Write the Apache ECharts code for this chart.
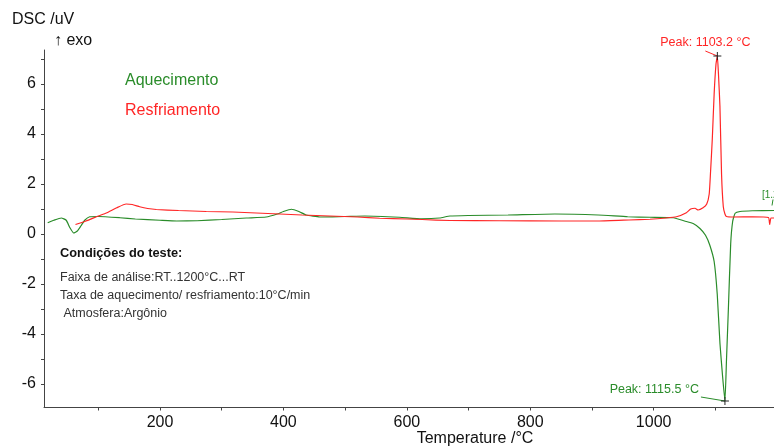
<!DOCTYPE html>
<html>
<head>
<meta charset="utf-8">
<title>DSC</title>
<script src="https://cdn.jsdelivr.net/npm/echarts@6/dist/echarts.min.js"></script>
<style>
  html, body { margin: 0; padding: 0; background: #fff; }
  #chart { width: 774px; height: 448px; }
</style>
</head>
<body>
<div id="chart"></div>
<script>
// Heating run (Aquecimento): temperature in °C and DSC signal in uV
const heatT = [18, 28, 40, 48, 54, 60, 66, 72, 78, 86, 100, 135, 160, 200, 227, 260, 300, 340, 372, 390, 400, 413, 425, 437, 459, 500, 532, 588, 624, 653, 670, 700, 764, 840, 910, 958, 994, 1032, 1050, 1064, 1075, 1084, 1091, 1098, 1103, 1107.4, 1111.7, 1115.5, 1118, 1121, 1124.8, 1128, 1132, 1140, 1160, 1195];
const heatDSC = [0.45, 0.55, 0.64, 0.55, 0.25, 0.04, 0.12, 0.33, 0.55, 0.69, 0.70, 0.65, 0.60, 0.55, 0.52, 0.53, 0.58, 0.64, 0.68, 0.80, 0.90, 0.99, 0.90, 0.76, 0.68, 0.70, 0.72, 0.67, 0.61, 0.64, 0.72, 0.74, 0.76, 0.80, 0.76, 0.69, 0.67, 0.65, 0.52, 0.42, 0.22, -0.05, -0.45, -1.1, -2.4, -4.37, -5.7, -6.68, -5.04, -3.04, -0.4, 0.5, 0.83, 0.9, 0.93, 0.94];

// Cooling run (Resfriamento)
const coolT = [63, 80, 100, 113, 130, 145, 155, 167, 180, 194, 230, 275, 318, 356, 394, 430, 475, 520, 556, 600, 625, 670, 750, 850, 912, 960, 994, 1020, 1037, 1053, 1060, 1067, 1072, 1080, 1086, 1090, 1092, 1095, 1098, 1101, 1103.2, 1105, 1107.4, 1110, 1112.8, 1115.5, 1118, 1130, 1160, 1186, 1188, 1190, 1195];
const coolDSC = [0.38, 0.52, 0.72, 0.84, 1.05, 1.2, 1.18, 1.09, 1.02, 0.98, 0.94, 0.90, 0.88, 0.84, 0.80, 0.76, 0.72, 0.68, 0.63, 0.60, 0.58, 0.54, 0.53, 0.52, 0.52, 0.56, 0.59, 0.64, 0.69, 0.85, 1.0, 1.03, 0.96, 1.05, 1.2, 1.6, 2.4, 3.8, 5.6, 6.8, 7.12, 6.4, 5.1, 2.4, 1.1, 0.8, 0.70, 0.68, 0.69, 0.66, 0.38, 0.64, 0.64];

// Evaluated peaks
const peakHeat = { t: 1115.5, dsc: -6.68, text: 'Peak: 1115.5 °C' };
const peakCool = { t: 1103.2, dsc: 7.12, text: 'Peak: 1103.2 °C' };

// Axis ticks and labels
const xLabels = [200, 400, 600, 800, 1000];
const xTicks = [100, 200, 300, 400, 500, 600, 700, 800, 900, 1000, 1100];
const yLabels = [-6, -4, -2, 0, 2, 4, 6];
const yTicks = [-6, -5, -4, -3, -2, -1, 0, 1, 2, 3, 4, 5, 6, 7];

const conditions = [
  'Faixa de análise:RT..1200°C...RT',
  'Taxa de aquecimento/ resfriamento:10°C/min',
  ' Atmosfera:Argônio'
];

const GREEN = '#2a8c2a';
const RED = '#ff2626';
const FONT = '"Liberation Sans", Arial, "DejaVu Sans", sans-serif';

const zip = (xs, ys) => xs.map((x, i) => [x, ys[i]]);

const crossSymbol = 'path://M5,0L5,10M0,5L10,5';

const chart = echarts.init(document.getElementById('chart'), null, { renderer: 'canvas' });

chart.setOption({
  animation: false,
  backgroundColor: '#ffffff',
  textStyle: { fontFamily: FONT },
  grid: { left: 44, right: 0, top: 50, bottom: 40.5, containLabel: false },
  legend: {
    orient: 'vertical',
    left: 115,
    top: 67,
    itemWidth: 0,
    itemHeight: 18,
    itemGap: 12,
    selectedMode: false,
    textStyle: { fontSize: 16, fontFamily: FONT, lineHeight: 18 },
    data: [
      { name: 'Aquecimento', icon: 'none', textStyle: { color: GREEN } },
      { name: 'Resfriamento', icon: 'none', textStyle: { color: RED } }
    ]
  },
  xAxis: {
    type: 'value',
    min: 12,
    max: 1195,
    axisLine: { show: true, onZero: false, lineStyle: { color: '#444', width: 1 } },
    splitLine: { show: false },
    axisTick: { show: true, length: 3, lineStyle: { color: '#444' }, customValues: xTicks },
    axisLabel: {
      customValues: xLabels, fontSize: 16, color: '#111', margin: 7, fontFamily: FONT,
      formatter: v => String(v)
    }
  },
  yAxis: {
    type: 'value',
    min: -6.94,
    max: 7.36,
    axisLine: { show: true, onZero: false, lineStyle: { color: '#444', width: 1 } },
    splitLine: { show: false },
    axisTick: { show: true, length: 3, lineStyle: { color: '#444' }, customValues: yTicks },
    axisLabel: {
      customValues: yLabels, fontSize: 16, color: '#111', margin: 8, fontFamily: FONT,
      formatter: v => String(v)
    }
  },
  series: [
    {
      name: 'Aquecimento',
      type: 'line',
      data: zip(heatT, heatDSC),
      showSymbol: false,
      smooth: 0.15,
      lineStyle: { color: GREEN, width: 1.2 },
      itemStyle: { color: GREEN },
      markPoint: {
        symbol: crossSymbol,
        symbolSize: 8,
        itemStyle: { color: 'rgba(0,0,0,0)', borderColor: '#222', borderWidth: 1 },
        label: { show: false },
        data: [{ coord: [peakHeat.t, peakHeat.dsc] }]
      }
    },
    {
      name: 'Resfriamento',
      type: 'line',
      data: zip(coolT, coolDSC),
      showSymbol: false,
      smooth: 0.15,
      lineStyle: { color: RED, width: 1.2 },
      itemStyle: { color: RED },
      markPoint: {
        symbol: crossSymbol,
        symbolSize: 8,
        itemStyle: { color: 'rgba(0,0,0,0)', borderColor: '#222', borderWidth: 1 },
        label: { show: false },
        data: [{ coord: [peakCool.t, peakCool.dsc] }]
      }
    }
  ]
});

// Annotations placed relative to the data points they describe
const pCool = chart.convertToPixel({ gridIndex: 0 }, [peakCool.t, peakCool.dsc]);
const pHeat = chart.convertToPixel({ gridIndex: 0 }, [peakHeat.t, peakHeat.dsc]);
const pEnd = chart.convertToPixel({ gridIndex: 0 }, [heatT[heatT.length - 1], heatDSC[heatDSC.length - 1]]);

const graphics = [
  // y-axis title
  { type: 'text', left: 12, top: 12, style: { text: 'DSC /uV', fontSize: 16, fontFamily: FONT, fill: '#111' } },
  { type: 'text', left: 54, top: 33, style: { text: '↑ exo', fontSize: 16, fontFamily: FONT, fill: '#111' } },
  // x-axis title
  { type: 'text', x: 475, y: 439, style: { text: 'Temperature /°C', fontSize: 16, fontFamily: FONT, fill: '#111', align: 'center', verticalAlign: 'middle' } },
  // test conditions block
  { type: 'text', x: 60, y: 253, style: { text: 'Condições do teste:', fontSize: 12.8, fontWeight: 'bold', fontFamily: FONT, fill: '#111', verticalAlign: 'middle' } }
];
conditions.forEach((line, i) => {
  graphics.push({ type: 'text', x: 60, y: 278 + i * 18, style: { text: line, fontSize: 12.5, fontFamily: FONT, fill: '#333', verticalAlign: 'middle' } });
});

// Peak of the cooling curve
graphics.push(
  { type: 'line', shape: { x1: pCool[0] - 12, y1: pCool[1] - 5, x2: pCool[0], y2: pCool[1] }, style: { stroke: RED, lineWidth: 1 } },
  { type: 'text', x: pCool[0] - 12, y: pCool[1] - 13, style: { text: peakCool.text, fontSize: 12.5, fontFamily: FONT, fill: RED, align: 'center', verticalAlign: 'middle' } }
);
// Peak of the heating curve
graphics.push(
  { type: 'line', shape: { x1: pHeat[0] - 24, y1: pHeat[1] - 4, x2: pHeat[0], y2: pHeat[1] }, style: { stroke: GREEN, lineWidth: 1 } },
  { type: 'text', x: pHeat[0] - 26, y: pHeat[1] - 11, style: { text: peakHeat.text, fontSize: 12.5, fontFamily: FONT, fill: GREEN, align: 'right', verticalAlign: 'middle' } }
);
// Curve tag at the right end of the heating run
graphics.push(
  { type: 'line', shape: { x1: pEnd[0] - 1, y1: pEnd[1] - 11, x2: pEnd[0] - 2, y2: pEnd[1] - 5 }, style: { stroke: GREEN, lineWidth: 1 } },
  { type: 'text', x: pEnd[0] - 12, y: pEnd[1] - 15, style: { text: '[1.2]', fontSize: 10, fontFamily: FONT, fill: GREEN, verticalAlign: 'middle' } }
);

chart.setOption({ graphic: graphics });
</script>
</body>
</html>
